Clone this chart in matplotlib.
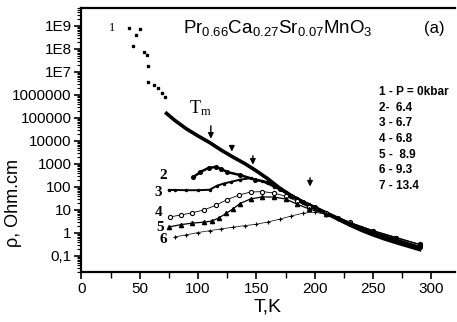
import numpy as np
import matplotlib
matplotlib.use("Agg")
import matplotlib.pyplot as plt
from matplotlib.ticker import FixedLocator, LogLocator, NullFormatter, MultipleLocator

plt.rcParams["font.family"] = ["Liberation Sans", "DejaVu Sans"]
plt.rcParams["mathtext.fontset"] = "custom"
plt.rcParams["mathtext.rm"] = "Liberation Sans"
plt.rcParams["mathtext.it"] = "Liberation Sans:italic:bold"

# curve 1 (P = 0), low-T scattered points, log10(rho)
t1_low = [41, 44.5, 47, 50.6, 54, 56, 57.5, 57.5, 62, 66, 69.5, 72]
r1_low = [8.91, 8.13, 8.6, 8.87, 7.87, 7.74, 7.26, 6.57, 6.43, 6.30, 6.09, 5.91]

# curve 1, dense part
t1 = [73, 80, 90, 100, 110, 120, 130, 140, 150, 160, 170, 180, 190, 200,
      210, 220, 230, 240, 250, 260, 270, 280, 290]
r1 = [5.2, 4.9, 4.53, 4.22, 3.93, 3.6, 3.3, 3.02, 2.7, 2.35, 1.95, 1.62, 1.33,
      1.1, 0.85, 0.6, 0.35, 0.12, -0.08, -0.26, -0.42, -0.57, -0.72]

# 2 - 6.4 kbar
t2 = [96, 102, 109, 115, 120, 125, 136, 149, 160, 170, 180, 190, 200, 220, 240, 260, 290]
r2 = [2.43, 2.65, 2.83, 2.87, 2.78, 2.65, 2.52, 2.32, 2.2, 1.9, 1.62, 1.36, 1.13,
      0.66, 0.2, -0.17, -0.62]

# 3 - 6.7 kbar
t3 = [75, 80, 90, 100, 110, 116, 122, 128, 136, 145, 155, 165, 175, 185, 195,
      210, 230, 250, 270, 290]
r3 = [1.87, 1.87, 1.86, 1.86, 1.88, 2.05, 2.15, 2.22, 2.32, 2.38, 2.25, 2.02,
      1.78, 1.52, 1.25, 0.88, 0.42, 0.03, -0.28, -0.6]

# 4 - 6.8 kbar
t4 = [76, 85, 95, 105, 115, 125, 135, 145, 155, 165, 175, 185, 195, 210, 230,
      250, 270, 290]
r4 = [0.70, 0.78, 0.88, 1.0, 1.2, 1.45, 1.65, 1.78, 1.8, 1.74, 1.6, 1.38, 1.12,
      0.85, 0.47, 0.1, -0.2, -0.5]

# 5 - 8.9 kbar
t5 = [75, 85, 95, 105, 112, 118, 124, 130, 136, 145, 155, 165, 175, 185, 195,
      210, 230, 250, 270, 290]
r5 = [0.26, 0.36, 0.43, 0.47, 0.52, 0.66, 0.85, 1.05, 1.28, 1.48, 1.57, 1.56,
      1.48, 1.25, 1.05, 0.82, 0.45, 0.1, -0.2, -0.5]

# 6 - 9.3 kbar
t6 = [80, 90, 100, 110, 120, 130, 140, 150, 160, 170, 180, 190, 200, 210, 220,
      235, 250, 270, 290]
r6 = [-0.17, -0.08, 0.02, 0.1, 0.18, 0.25, 0.32, 0.38, 0.48, 0.6, 0.74, 0.86,
      0.91, 0.8, 0.6, 0.3, 0.05, -0.22, -0.5]

legend_lines = ["1 - P = 0kbar", "2-  6.4", "3 - 6.7", "4 - 6.8", "5 -  8.9",
                "6 - 9.3", "7 - 13.4"]

ytick_pos = [9, 8, 7, 6, 5, 4, 3, 2, 1, 0, -1]
ytick_lab = ["1E9", "1E8", "1E7", "1000000", "100000", "10000", "1000", "100",
             "10", "1", "0,1"]

# Tm arrows: (T, log start, log end)
arrows = [(111, 4.78, 3.98), (129, 3.9, 3.42), (147, 3.48, 2.85), (196, 2.52, 1.9)]

fig = plt.figure(figsize=(4.57, 3.22), dpi=100)
ax = fig.add_axes([0.178, 0.155, 0.817, 0.820])

p = lambda v: 10 ** np.array(v)

ax.plot(t1_low, p(r1_low), "s", color="black", ms=2.0)
ax.plot(t1, p(r1), "-", color="black", lw=2.6)
ax.plot(t2, p(r2), "o-", color="black", lw=1.8, ms=2.6)
ax.plot(t3, p(r3), ".-", color="black", lw=1.4, ms=3)
ax.plot(t4, p(r4), "o-", color="black", lw=0.6, ms=3, mfc="white", mew=0.8)
ax.plot(t5, p(r5), "^-", color="black", lw=0.9, ms=3)
ax.plot(t6, p(r6), "+-", color="black", lw=0.5, ms=3.5, mew=0.8)

ax.set_yscale("log")
ax.set_xlim(0, 320)
ax.set_ylim(10 ** -1.70, 10 ** 9.78)

ax.yaxis.set_major_locator(FixedLocator([10.0 ** v for v in ytick_pos]))
ax.set_yticklabels(ytick_lab)
ax.yaxis.set_minor_locator(LogLocator(base=10, subs=np.arange(2, 10), numticks=20))
ax.yaxis.set_minor_formatter(NullFormatter())
ax.xaxis.set_major_locator(MultipleLocator(50))
ax.xaxis.set_minor_locator(MultipleLocator(25))

ax.tick_params(axis="both", which="major", labelsize=11, direction="out",
               length=5, width=1.2, pad=2)
ax.tick_params(axis="y", which="minor", direction="out", length=3, width=0.8)
ax.tick_params(axis="x", which="minor", direction="out", length=4, width=1.0)
for s in ["left", "bottom", "top"]:
    ax.spines[s].set_linewidth(1.6)
ax.spines["right"].set_visible(False)

ax.set_xlabel("T,K", fontsize=14, labelpad=2)
ax.set_ylabel("\u03c1, Ohm.cm", fontsize=13)
ax.yaxis.set_label_coords(-0.16, 0.26)

# formula and panel tag
ax.text(0.272, 0.924, r"Pr$_{\mathit{0.66}}$Ca$_{\mathit{0.27}}$Sr$_{\mathit{0.07}}$MnO$_{\mathit{3}}$",
        transform=ax.transAxes, fontsize=13.5, va="center", ha="left")
ax.text(0.945, 0.924, "(a)", transform=ax.transAxes, fontsize=12, va="center", ha="center")

for i, line in enumerate(legend_lines):
    ax.text(0.797, 0.682 - i * 0.0593, line, transform=ax.transAxes, fontsize=8.5,
            fontweight="bold", va="center", ha="left")

# curve labels
serif = ["Liberation Serif", "DejaVu Serif"]
ax.text(26.6, 10 ** 8.91, "1", family=serif, fontsize=9, va="center", ha="center")
for num, tx, ly in [("2", 70.3, 2.52), ("3", 66, 1.78), ("4", 66, 0.91),
                    ("5", 67.7, 0.26), ("6", 70.3, -0.30)]:
    ax.text(tx, 10 ** ly, num, family=serif, fontsize=11, fontweight="bold",
            va="center", ha="center")
ax.text(97.7, 10 ** 5.43, "T", family=serif, fontsize=13, va="center", ha="center")
ax.text(102.5, 10 ** 5.25, "m", family=serif, fontsize=9, va="center", ha="left")

for tx, y0, y1 in arrows:
    ax.annotate("", xy=(tx, 10 ** y1), xytext=(tx, 10 ** y0),
                arrowprops=dict(arrowstyle="-|>", color="black", lw=1.0,
                                mutation_scale=8))

fig.savefig("out.png", dpi=100)
